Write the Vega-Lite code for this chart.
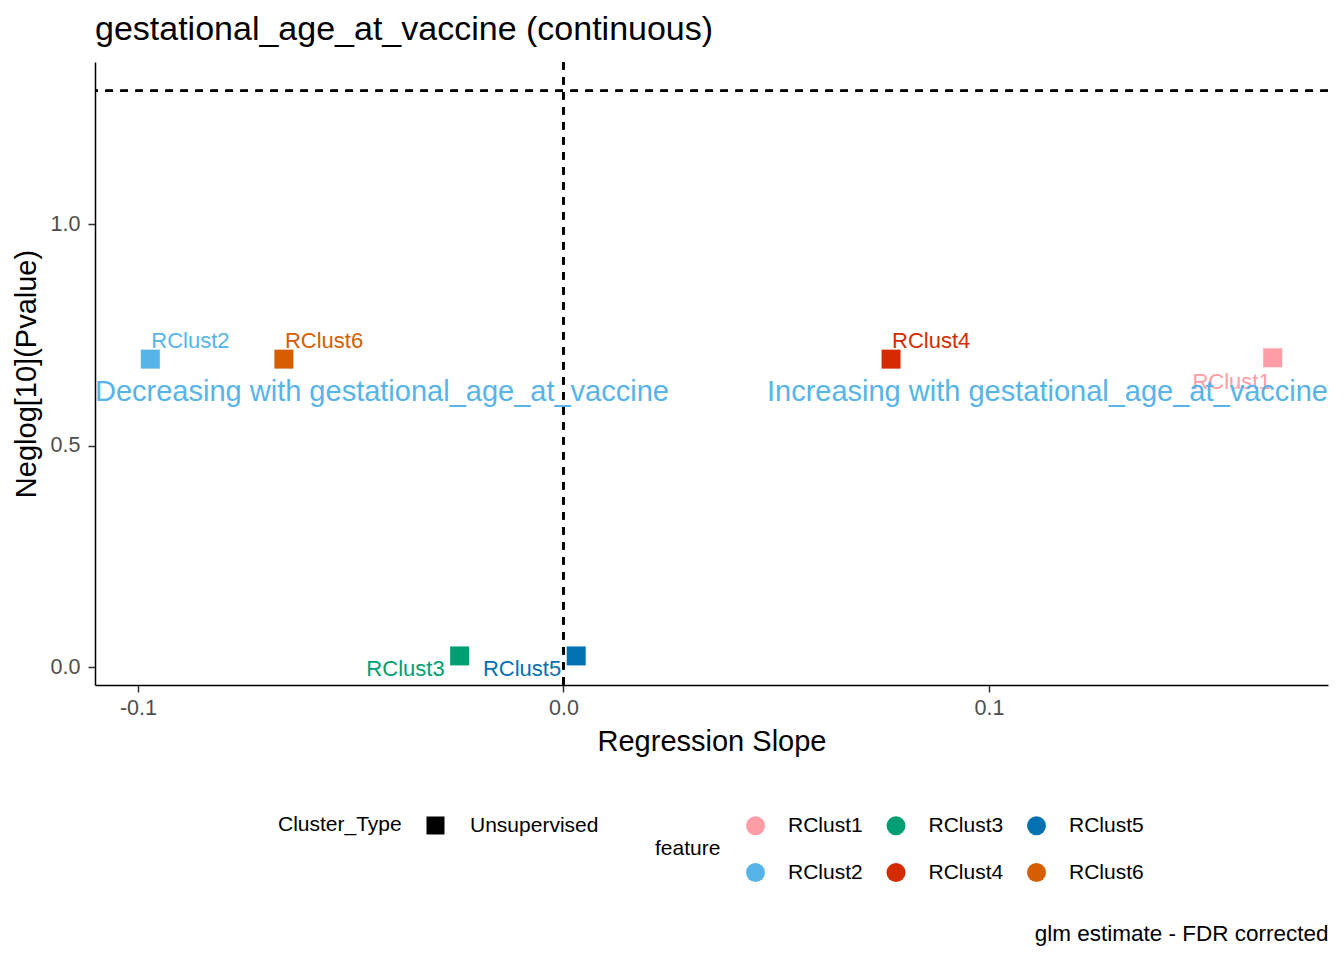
{
  "$schema": "https://vega.github.io/schema/vega-lite/v6.json",
  "width": 1233,
  "height": 623,
  "autosize": {"type": "none"},
  "padding": {"left": 95, "top": 62, "right": 16, "bottom": 275},
  "background": "white",
  "title": {"text": "gestational_age_at_vaccine (continuous)", "anchor": "start", "frame": "group", "fontSize": 34, "fontWeight": "normal", "color": "black", "baseline": "alphabetic", "offset": -13},
  "config": {
    "font": "Liberation Sans",
    "view": {"stroke": null},
    "axis": {"grid": false, "domainColor": "black", "domainWidth": 1.5, "tickColor": "#333333", "tickWidth": 1.5, "tickSize": 7, "labelColor": "#4D4D4D", "labelFontSize": 21.5, "labelPadding": 5, "titleFontSize": 29, "titleFontWeight": "normal", "titleColor": "black"},
    "legend": {"labelFontSize": 21, "titleFontSize": 21, "titleFontWeight": "normal", "titleColor": "black", "labelColor": "black"}
  },
  "data": {"values": [
    {"feature": "RClust1", "slope": 0.1667, "neglogp": 0.698, "Cluster_Type": "Unsupervised"},
    {"feature": "RClust2", "slope": -0.0971, "neglogp": 0.695, "Cluster_Type": "Unsupervised"},
    {"feature": "RClust3", "slope": -0.0244, "neglogp": 0.025, "Cluster_Type": "Unsupervised"},
    {"feature": "RClust4", "slope": 0.0770, "neglogp": 0.695, "Cluster_Type": "Unsupervised"},
    {"feature": "RClust5", "slope": 0.0030, "neglogp": 0.025, "Cluster_Type": "Unsupervised"},
    {"feature": "RClust6", "slope": -0.0657, "neglogp": 0.695, "Cluster_Type": "Unsupervised"}
  ]},
  "layer": [
    {
      "mark": {"type": "rule", "strokeDash": [7.5, 7.5], "strokeWidth": 2, "color": "black"},
      "encoding": {
        "x": {"datum": 0, "type": "quantitative", "axis": null, "scale": {"domain": [-0.1101, 0.1797], "nice": false, "zero": false}}
      }
    },
    {
      "mark": {"type": "rule", "strokeDash": [7.5, 7.5], "strokeWidth": 2, "color": "black"},
      "encoding": {
        "y": {"datum": 1.30103, "type": "quantitative", "title": "Neglog[10](Pvalue)"}
      }
    },
    {
      "mark": {"type": "point", "filled": true, "size": 361, "opacity": 1, "strokeWidth": 0},
      "encoding": {
        "x": {"field": "slope", "type": "quantitative", "title": "Regression Slope",
              "scale": {"domain": [-0.1101, 0.1797], "nice": false, "zero": false},
              "axis": {"values": [-0.1, 0, 0.1], "labelExpr": "replace(format(datum.value, '.1f'), '\u2212', '-')", "titlePadding": 9}},
        "y": {"field": "neglogp", "type": "quantitative", "title": "Neglog[10](Pvalue)",
              "scale": {"domain": [-0.0406, 1.3657], "nice": false, "zero": false},
              "axis": {"values": [0, 0.5, 1], "format": ".1f", "labelPadding": 8, "titlePadding": 9}},
        "color": {"field": "feature", "type": "nominal",
                  "scale": {"domain": ["RClust1", "RClust2", "RClust3", "RClust4", "RClust5", "RClust6"],
                            "range": ["#FF9DA7", "#56B4E9", "#009E73", "#D52B00", "#0072B2", "#D55E00"]},
                  "legend": {"orient": "none", "legendX": 560, "legendY": 753, "title": "feature", "titleOrient": "left", "titleAnchor": "middle", "titleBaseline": "middle", "columns": 3, "symbolType": "circle", "symbolSize": 361, "symbolStrokeWidth": 0, "labelOffset": 22, "columnPadding": 22.5, "rowPadding": 25, "titlePadding": 24}},
        "shape": {"field": "Cluster_Type", "type": "nominal",
                  "scale": {"domain": ["Unsupervised"], "range": ["square"]},
                  "legend": {"orient": "none", "legendX": 183, "legendY": 753, "title": "Cluster_Type", "titleOrient": "left", "titleAnchor": "middle", "titleBaseline": "middle", "symbolFillColor": "black", "symbolStrokeWidth": 0, "symbolSize": 324, "labelOffset": 24, "titlePadding": 23}}
      }
    },
    {
      "transform": [{"filter": {"field": "feature", "oneOf": ["RClust2", "RClust4", "RClust6"]}}],
      "mark": {"type": "text", "align": "left", "baseline": "alphabetic", "dx": 1, "dy": -11, "fontSize": 22},
      "encoding": {
        "x": {"field": "slope", "type": "quantitative", "axis": null},
        "y": {"field": "neglogp", "type": "quantitative", "title": "Neglog[10](Pvalue)"},
        "text": {"field": "feature"},
        "color": {"field": "feature", "type": "nominal", "legend": null}
      }
    },
    {
      "transform": [{"filter": {"field": "feature", "oneOf": ["RClust1"]}}],
      "mark": {"type": "text", "align": "right", "baseline": "alphabetic", "dx": -2, "dy": 31, "fontSize": 22},
      "encoding": {
        "x": {"field": "slope", "type": "quantitative", "axis": null},
        "y": {"field": "neglogp", "type": "quantitative", "title": "Neglog[10](Pvalue)"},
        "text": {"field": "feature"},
        "color": {"field": "feature", "type": "nominal", "legend": null}
      }
    },
    {
      "transform": [{"filter": {"field": "feature", "oneOf": ["RClust3", "RClust5"]}}],
      "mark": {"type": "text", "align": "right", "baseline": "alphabetic", "dx": -15, "dy": 20, "fontSize": 22},
      "encoding": {
        "x": {"field": "slope", "type": "quantitative", "axis": null},
        "y": {"field": "neglogp", "type": "quantitative", "title": "Neglog[10](Pvalue)"},
        "text": {"field": "feature"},
        "color": {"field": "feature", "type": "nominal", "legend": null}
      }
    },
    {
      "data": {"values": [{"label": "Decreasing with gestational_age_at_vaccine", "x": -0.1101, "y": 0.6}]},
      "mark": {"type": "text", "align": "left", "baseline": "alphabetic", "fontSize": 29, "color": "#56B4E9"},
      "encoding": {
        "x": {"field": "x", "type": "quantitative", "axis": null},
        "y": {"field": "y", "type": "quantitative", "title": "Neglog[10](Pvalue)"},
        "text": {"field": "label"}
      }
    },
    {
      "data": {"values": [{"label": "Increasing with gestational_age_at_vaccine", "x": 0.1797, "y": 0.6}]},
      "mark": {"type": "text", "align": "right", "baseline": "alphabetic", "fontSize": 29, "color": "#56B4E9"},
      "encoding": {
        "x": {"field": "x", "type": "quantitative", "title": "glm estimate - FDR corrected",
              "axis": {"orient": "bottom", "labels": false, "ticks": false, "domain": false, "grid": false, "titleAnchor": "end", "titleFontSize": 22.5, "titleColor": "black", "titleBaseline": "alphabetic", "titlePadding": 255}},
        "y": {"field": "y", "type": "quantitative", "title": "Neglog[10](Pvalue)"},
        "text": {"field": "label"}
      }
    }
  ],
  "resolve": {"axis": {"x": "independent"}}
}
